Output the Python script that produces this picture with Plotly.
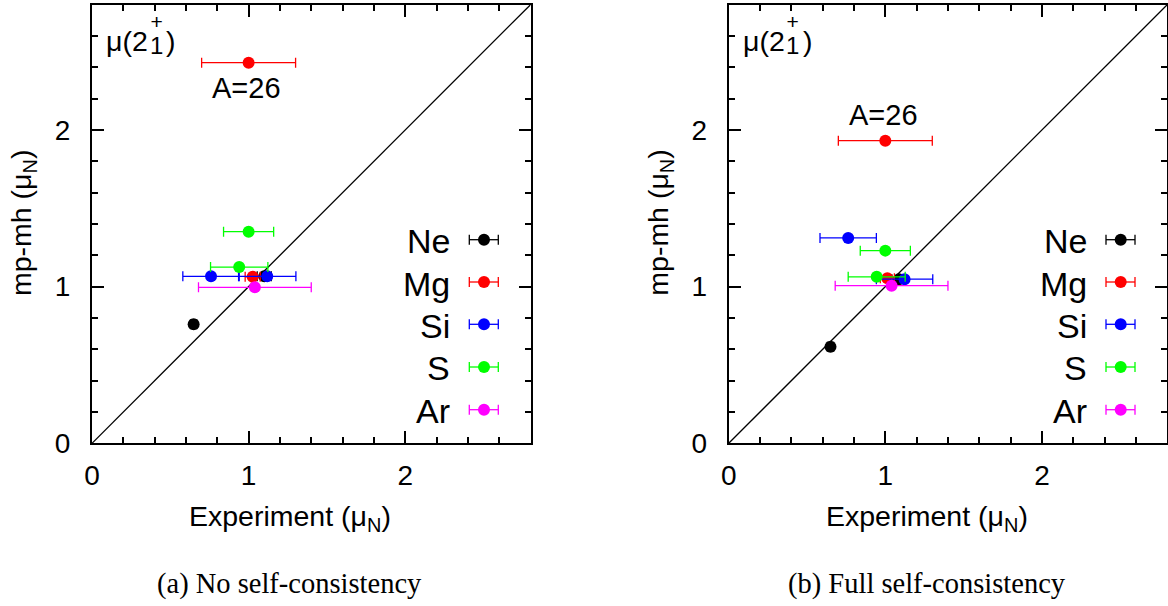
import plotly.graph_objects as go

W, H = 1168, 606

# ---------------- data ----------------
elements = ["Ne", "Mg", "Si", "S", "Ar"]
colors = ["#000000", "#ff0000", "#0000ff", "#00ff00", "#ff00ff"]

# (a) No self-consistency
a_ne_x = [0.649, 1.100]; a_ne_y = [0.760, 1.066]; a_ne_e = [0.02, 0.045]
a_mg_x = [1.000, 1.026]; a_mg_y = [2.430, 1.063]; a_mg_e = [0.30, 0.048]
a_si_x = [0.760, 1.119]; a_si_y = [1.066, 1.066]; a_si_e = [0.18, 0.183]
a_s_x = [1.000, 0.940];  a_s_y = [1.351, 1.125];  a_s_e = [0.16, 0.183]
a_ar_x = [1.040];        a_ar_y = [0.996];        a_ar_e = [0.36]

# (b) Full self-consistency
b_ne_x = [0.650, 1.087]; b_ne_y = [0.617, 1.048]; b_ne_e = [0.02, 0.045]
b_mg_x = [1.000, 1.013]; b_mg_y = [1.932, 1.053]; b_mg_e = [0.30, 0.045]
b_si_x = [0.763, 1.123]; b_si_y = [1.311, 1.048]; b_si_e = [0.18, 0.180]
b_s_x = [1.000, 0.945];  b_s_y = [1.230, 1.063];  b_s_e = [0.16, 0.182]
b_ar_x = [1.040];        b_ar_y = [1.006];        b_ar_e = [0.36]

a26_label_a = (0.987, 2.267)
a26_label_b = (0.987, 2.098)

tick_vals = [0, 1, 2]
tick_text = ["0", "1", "2"]
axis_max = 2.8
captions = ["(a) No self-consistency", "(b) Full self-consistency"]
x_title = "Experiment (μ<sub>N</sub>)"
y_title = "mp-mh (μ<sub>N</sub>)"

panels = [
    [(a_ne_x, a_ne_y, a_ne_e), (a_mg_x, a_mg_y, a_mg_e), (a_si_x, a_si_y, a_si_e),
     (a_s_x, a_s_y, a_s_e), (a_ar_x, a_ar_y, a_ar_e)],
    [(b_ne_x, b_ne_y, b_ne_e), (b_mg_x, b_mg_y, b_mg_e), (b_si_x, b_si_y, b_si_e),
     (b_s_x, b_s_y, b_s_e), (b_ar_x, b_ar_y, b_ar_e)],
]
a26_labels = [a26_label_a, a26_label_b]

# ---------------- layout helpers ----------------
SANS = "Liberation Sans, Arial, sans-serif"
SERIF = "Liberation Serif, Times New Roman, serif"

def px(x):
    return x / W

def py(y):
    return 1 - y / H

plot_left = [92.0, 728.7]
plot_w = 438.5
plot_top, plot_bot = 4.7, 443.3

fig = go.Figure()
shapes = []
annotations = []

for p in range(2):
    xa = "x" if p == 0 else "x2"
    ya = "y" if p == 0 else "y2"
    for i, (xs, ys, es) in enumerate(panels[p]):
        fig.add_trace(go.Scatter(
            x=xs, y=ys, mode="markers", xaxis=xa, yaxis=ya,
            marker=dict(color=colors[i], size=12, line=dict(width=0)),
            error_x=dict(type="data", array=es, color=colors[i], thickness=1.3, width=5),
            showlegend=False, hoverinfo="skip",
        ))
    # diagonal y = x
    shapes.append(dict(type="line", xref=xa, yref=ya, x0=0, y0=0, x1=axis_max, y1=axis_max,
                       line=dict(color="black", width=1.3), layer="below"))

    off = plot_left[p] - plot_left[0]
    # legend (text on the left, sample on the right)
    leg_y = [239.7, 282.0, 324.3, 367.0, 409.7]
    for i, name in enumerate(elements):
        yy = py(leg_y[i])
        annotations.append(dict(text=name, xref="paper", yref="paper",
                                x=px(452 + off), y=py(leg_y[i] + 1.5), xanchor="right", yanchor="middle",
                                showarrow=False, font=dict(family=SANS, size=34, color="black")))
        x0, x1, xc = px(469.3 + off), px(498.3 + off), px(484 + off)
        shapes.append(dict(type="line", xref="paper", yref="paper", x0=x0, x1=x1, y0=yy, y1=yy,
                           line=dict(color=colors[i], width=1.3)))
        for xe in (x0, x1):
            shapes.append(dict(type="line", xref="paper", yref="paper", x0=xe, x1=xe,
                               y0=yy - 5 / H, y1=yy + 5 / H, line=dict(color=colors[i], width=1.3)))
        shapes.append(dict(type="circle", xref="paper", yref="paper",
                           x0=xc - 6 / W, x1=xc + 6 / W, y0=yy - 6 / H, y1=yy + 6 / H,
                           fillcolor=colors[i], line=dict(width=0)))

    # mu(2_1^+) label: "μ(2", stacked "+" over "1", then ")"
    annotations.append(dict(text="μ(2", xref="paper", yref="paper", x=px(104 + off), y=py(41),
                            xanchor="left", yanchor="middle", showarrow=False,
                            font=dict(family=SANS, size=28.5, color="black")))
    annotations.append(dict(text="<span style='font-size:21px'>+</span><br><span style='font-size:24px'>1</span>",
                            xref="paper", yref="paper", x=px(156 + off), y=py(35),
                            xanchor="center", yanchor="middle", align="center", showarrow=False,
                            font=dict(family=SANS, size=19.5, color="black")))
    annotations.append(dict(text=")", xref="paper", yref="paper", x=px(164 + off), y=py(41),
                            xanchor="left", yanchor="middle", showarrow=False,
                            font=dict(family=SANS, size=28.5, color="black")))
    # A=26 label
    lx, ly = a26_labels[p]
    annotations.append(dict(text="A=26", xref=xa, yref=ya, x=lx, y=ly, xanchor="center",
                            yanchor="middle", showarrow=False,
                            font=dict(family=SANS, size=29, color="black")))
    # axis titles
    annotations.append(dict(text=x_title, xref="paper", yref="paper", x=px(290 + off), y=py(518),
                            xanchor="center", yanchor="middle", showarrow=False,
                            font=dict(family=SANS, size=28.5, color="black")))
    annotations.append(dict(text=y_title, xref="paper", yref="paper", x=px(23 + off), y=py(223),
                            xanchor="center", yanchor="middle", showarrow=False, textangle=-90,
                            font=dict(family=SANS, size=28.5, color="black")))
    # caption
    annotations.append(dict(text=captions[p], xref="paper", yref="paper", x=px(289.5 + off + (1 if p else 0)),
                            y=py(584), xanchor="center", yanchor="middle", showarrow=False,
                            font=dict(family=SERIF, size=28.5, color="black")))

axis_common = dict(
    range=[0, axis_max], tickmode="array", tickvals=tick_vals, ticktext=tick_text,
    ticks="inside", ticklen=12, tickwidth=1.5, tickcolor="black",
    minor=dict(ticks="inside", ticklen=6, dtick=0.2, tick0=0, tickwidth=1.5, tickcolor="black"),
    showline=True, linewidth=2, linecolor="black", mirror="allticks",
    showgrid=False, zeroline=False, automargin=False,
    tickfont=dict(family=SANS, size=28, color="black"),
)

ydom = [py(plot_bot), py(plot_top)]
fig.update_layout(
    template="none",
    width=W, height=H,
    margin=dict(l=0, r=0, t=0, b=0, pad=0),
    paper_bgcolor="white", plot_bgcolor="white",
    xaxis=dict(domain=[px(plot_left[0]), px(plot_left[0] + plot_w)], anchor="y",
               ticklabelstandoff=6, **axis_common),
    yaxis=dict(domain=ydom, anchor="x", ticklabelstandoff=14, **axis_common),
    xaxis2=dict(domain=[px(plot_left[1]), px(plot_left[1] + plot_w)], anchor="y2",
                ticklabelstandoff=6, **axis_common),
    yaxis2=dict(domain=ydom, anchor="x2", ticklabelstandoff=14, **axis_common),
    shapes=shapes,
    annotations=annotations,
    showlegend=False,
)

fig.write_html("out.html", config={"displayModeBar": False},
               post_script="document.body.style.margin='0';document.body.style.overflow='hidden';")
